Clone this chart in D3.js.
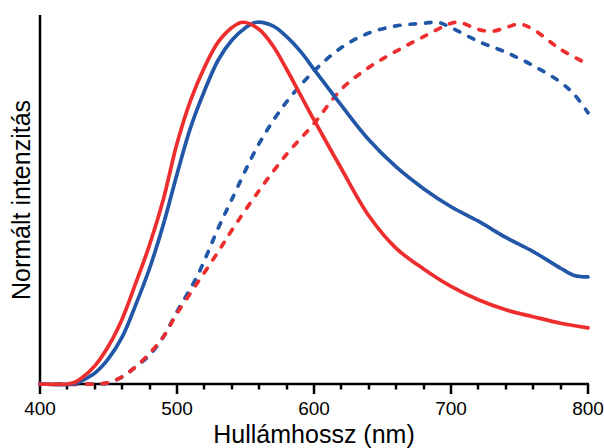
<!DOCTYPE html>
<html>
<head>
<meta charset="utf-8">
<script src="https://cdn.jsdelivr.net/npm/d3@7"></script>
<style>
  body { margin: 0; background: #fff; }
  svg { display: block; }
  text { font-family: Arial, "Liberation Sans", sans-serif; fill: #000; }
</style>
</head>
<body>
<div id="container"></div>
<script>
// values (normalised intensity vs wavelength, nm)
let redSolid = [[400,0],[420,0],[425,0.004],[430,0.015],[440,0.05],[450,0.105],[460,0.18],[470,0.28],[480,0.385],[490,0.51],[500,0.665],[510,0.785],[520,0.875],[530,0.945],[540,0.985],[548,1.0],[560,0.98],[570,0.935],[580,0.87],[590,0.80],[600,0.73],[620,0.595],[640,0.465],[660,0.375],[680,0.318],[700,0.27],[720,0.233],[740,0.205],[760,0.186],[780,0.168],[800,0.155]]
let blueSolid = [[400,0],[425,0],[430,0.008],[440,0.03],[450,0.07],[460,0.13],[470,0.22],[480,0.32],[490,0.44],[500,0.58],[510,0.71],[520,0.81],[530,0.895],[540,0.95],[550,0.985],[558,1.0],[570,0.99],[580,0.96],[590,0.92],[600,0.87],[620,0.77],[640,0.675],[660,0.60],[680,0.54],[700,0.49],[720,0.45],[740,0.405],[760,0.366],[780,0.32],[790,0.30],[800,0.296]]
let blueDashed = [[400,0],[440,0],[450,0.003],[460,0.02],[470,0.048],[480,0.08],[490,0.13],[500,0.2],[515,0.30],[530,0.43],[540,0.51],[560,0.665],[580,0.78],[600,0.865],[620,0.93],[640,0.97],[660,0.99],[680,0.997],[690,1.0],[700,0.985],[720,0.947],[740,0.917],[760,0.88],[780,0.834],[790,0.80],[800,0.75]]
let redDashed = [[400,0],[440,0],[450,0.004],[460,0.02],[470,0.048],[480,0.085],[490,0.13],[500,0.195],[515,0.28],[530,0.365],[540,0.425],[560,0.535],[580,0.635],[600,0.72],[620,0.815],[640,0.875],[660,0.92],[680,0.96],[700,0.997],[706,1.0],[720,0.98],[730,0.975],[740,0.985],[750,0.995],[760,0.98],[780,0.925],[800,0.884]]

let majorTicks = [400, 500, 600, 700, 800]
let minorTicks = [420, 440, 460, 480, 520, 540, 560, 580, 620, 640, 660, 680, 720, 740, 760, 780]
let xTitle = 'Hullámhossz (nm)'
let yTitle = 'Normált intenzitás'

let width = 604, height = 448
let red = '#ee2e2e', blue = '#2257a8'

let svg = d3.select('#container').append('svg')
  .attr('width', width)
  .attr('height', height)

let x = d3.scaleLinear().domain([400, 800]).range([40, 588])
let y = d3.scaleLinear().domain([0, 1.02]).range([384, 15])

let line = d3.line()
  .x(d => x(d[0]))
  .y(d => y(d[1]))
  .curve(d3.curveCatmullRom.alpha(0.5))

// y axis: plain line, no ticks
svg.append('line')
  .attr('x1', x(400)).attr('x2', x(400))
  .attr('y1', y(1.02)).attr('y2', y(0))
  .attr('stroke', '#000').attr('stroke-width', 2.5)

// x axis line
svg.append('line')
  .attr('x1', x(400) - 1).attr('x2', x(800) + 1)
  .attr('y1', y(0)).attr('y2', y(0))
  .attr('stroke', '#000').attr('stroke-width', 2.5)

// tick marks
svg.selectAll('line.major')
  .data(majorTicks)
  .enter()
  .append('line')
  .attr('class', 'major')
  .attr('x1', d => Math.round(x(d))).attr('x2', d => Math.round(x(d)))
  .attr('y1', y(0)).attr('y2', y(0) + 10)
  .attr('stroke', '#000').attr('stroke-width', 2.5)

svg.selectAll('line.minor')
  .data(minorTicks)
  .enter()
  .append('line')
  .attr('class', 'minor')
  .attr('x1', d => Math.round(x(d))).attr('x2', d => Math.round(x(d)))
  .attr('y1', y(0)).attr('y2', y(0) + 5.5)
  .attr('stroke', '#000').attr('stroke-width', 2.5)

svg.selectAll('text.tick-label')
  .data(majorTicks)
  .enter()
  .append('text')
  .attr('class', 'tick-label')
  .attr('x', d => x(d))
  .attr('y', 415)
  .attr('text-anchor', 'middle')
  .attr('font-size', 19)
  .text(d => d)

// curves, back to front
let series = [
  { data: blueDashed, color: blue, dash: '5.5,10' },
  { data: redDashed, color: red, dash: '5.5,10' },
  { data: blueSolid, color: blue, dash: null },
  { data: redSolid, color: red, dash: null }
]

svg.selectAll('path.curve')
  .data(series)
  .enter()
  .append('path')
  .attr('class', 'curve')
  .attr('d', d => line(d.data))
  .attr('fill', 'none')
  .attr('stroke', d => d.color)
  .attr('stroke-width', 3.7)
  .attr('stroke-linecap', 'round')
  .attr('stroke-linejoin', 'round')
  .attr('stroke-dasharray', d => d.dash)

svg.append('text')
  .attr('x', 314)
  .attr('y', 443)
  .attr('text-anchor', 'middle')
  .attr('font-size', 25)
  .text(xTitle)

svg.append('text')
  .attr('transform', 'translate(30,200) rotate(-90)')
  .attr('text-anchor', 'middle')
  .attr('font-size', 25)
  .text(yTitle)
</script>
</body>
</html>
